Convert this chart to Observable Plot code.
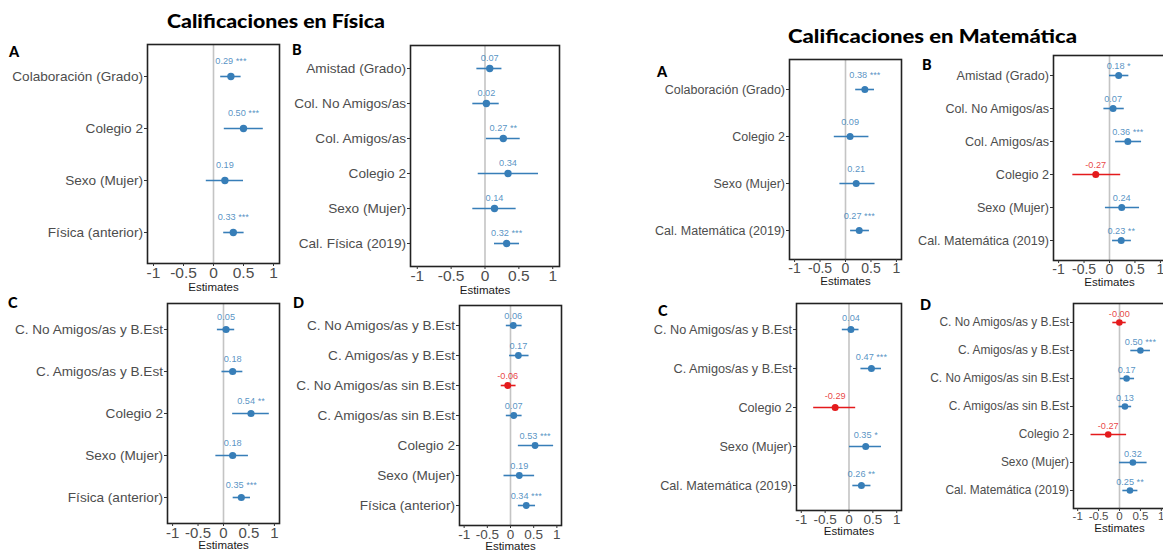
<!DOCTYPE html>
<html><head><meta charset="utf-8">
<script src="https://cdn.jsdelivr.net/npm/d3@7"></script>
<script src="https://cdn.jsdelivr.net/npm/@observablehq/plot@0.6"></script>
<style>
body{margin:0;background:#fff;}
#page{position:relative;width:1163px;height:554px;overflow:hidden;background:#fff;}
#page svg{overflow:visible;}
</style></head><body><div id="page"></div>
<script>
// ---------- data ----------
const fisA_terms = ["Colaboración (Grado)","Colegio 2","Sexo (Mujer)","Física (anterior)"];
const fisA_est = [0.29,0.50,0.19,0.33];
const fisA_lo  = [0.12,0.18,-0.12,0.17];
const fisA_hi  = [0.46,0.83,0.50,0.51];
const fisA_sig = ["***","***","","***"];

const fisB_terms = ["Amistad (Grado)","Col. No Amigos/as","Col. Amigos/as","Colegio 2","Sexo (Mujer)","Cal. Física (2019)"];
const fisB_est = [0.07,0.02,0.27,0.34,0.14,0.32];
const fisB_lo  = [-0.12,-0.18,0.02,-0.10,-0.18,0.14];
const fisB_hi  = [0.25,0.21,0.52,0.79,0.46,0.51];
const fisB_sig = ["","","**","","","***"];

const fisC_terms = ["C. No Amigos/as y B.Est","C. Amigos/as y B.Est","Colegio 2","Sexo (Mujer)","Física (anterior)"];
const fisC_est = [0.05,0.18,0.54,0.18,0.35];
const fisC_lo  = [-0.12,-0.03,0.18,-0.15,0.19];
const fisC_hi  = [0.22,0.38,0.90,0.49,0.53];
const fisC_sig = ["","","**","","***"];

const fisD_terms = ["C. No Amigos/as y B.Est","C. Amigos/as y B.Est","C. No Amigos/as sin B.Est","C. Amigos/as sin B.Est","Colegio 2","Sexo (Mujer)","Física (anterior)"];
const fisD_est = [0.06,0.17,-0.06,0.07,0.53,0.19,0.34];
const fisD_lo  = [-0.09,-0.02,-0.20,-0.09,0.17,-0.14,0.17];
const fisD_hi  = [0.25,0.40,0.12,0.25,0.93,0.52,0.54];
const fisD_sig = ["","","","","***","","***"];

const matA_terms = ["Colaboración (Grado)","Colegio 2","Sexo (Mujer)","Cal. Matemática (2019)"];
const matA_est = [0.38,0.09,0.21,0.27];
const matA_lo  = [0.20,-0.22,-0.11,0.10];
const matA_hi  = [0.57,0.46,0.58,0.47];
const matA_sig = ["***","","","***"];

const matB_terms = ["Amistad (Grado)","Col. No Amigos/as","Col. Amigos/as","Colegio 2","Sexo (Mujer)","Cal. Matemática (2019)"];
const matB_est = [0.18,0.07,0.36,-0.27,0.24,0.23];
const matB_lo  = [0.00,-0.11,0.12,-0.72,-0.08,0.06];
const matB_hi  = [0.38,0.29,0.63,0.22,0.59,0.43];
const matB_sig = ["*","","***","","","**"];

const matC_terms = ["C. No Amigos/as y B.Est","C. Amigos/as y B.Est","Colegio 2","Sexo (Mujer)","Cal. Matemática (2019)"];
const matC_est = [0.04,0.47,-0.29,0.35,0.26];
const matC_lo  = [-0.14,0.25,-0.74,0.01,0.08];
const matC_hi  = [0.21,0.68,0.14,0.68,0.46];
const matC_sig = ["","***","","*","**"];

const matD_terms = ["C. No Amigos/as y B.Est","C. Amigos/as y B.Est","C. No Amigos/as sin B.Est","C. Amigos/as sin B.Est","Colegio 2","Sexo (Mujer)","Cal. Matemática (2019)"];
const matD_est = [-0.004,0.50,0.17,0.13,-0.27,0.32,0.25];
const matD_lo  = [-0.16,0.27,0.02,-0.01,-0.68,0.00,0.08];
const matD_hi  = [0.16,0.74,0.36,0.29,0.17,0.66,0.44];
const matD_sig = ["","***","","","","","**"];

const xTicks = [-1,-0.5,0,0.5,1];
const xLabel = "Estimates";
const titles = ["Calificaciones en Física","Calificaciones en Matemática"];

// ---------- layout / style ----------
const BLUE = "#377eb8", RED = "#e41a1c";
const FONT = "'Liberation Sans', Arial, sans-serif";
const page = document.getElementById("page");

function panel(terms, est, lo, hi, sig, box) {
  const rows = terms.map((t, i) => ({
    term: t, est: est[i], lo: lo[i], hi: hi[i],
    label: est[i].toFixed(2) + (sig[i] ? " " + sig[i] : ""),
    col: est[i] < 0 ? RED : BLUE
  }));
  const mL = 200, mR = 12, mT = 10, mB = 45;
  const w = box.R - box.L, h = box.B - box.T;
  const step = h / (terms.length - 1 + 1.2);
  const chart = Plot.plot({
    width: mL + w + mR, height: mT + h + mB,
    marginLeft: mL, marginRight: mR, marginTop: mT, marginBottom: mB,
    style: {fontFamily: FONT, background: "transparent", overflow: "visible"},
    x: {domain: [-1.1, 1.1]},
    y: {type: "point", domain: terms, padding: 0.6},
    color: {type: "identity"},
    marks: [
      Plot.ruleX([0], {stroke: "#c4c4c4", strokeWidth: 1.6}),
      Plot.ruleY(rows, {y: "term", x1: "lo", x2: "hi", stroke: "col", strokeWidth: 1.6}),
      Plot.dot(rows, {x: "est", y: "term", r: box.r, fill: "col", stroke: null}),
      Plot.text(rows, {x: "est", y: "term", text: "label", dy: -0.3 * step, fill: "col", fillOpacity: 0.85, fontSize: 9.2}),
      Plot.frame({stroke: "#222", strokeWidth: 1.6}),
      Plot.axisY({tickSize: 3, tickPadding: 1.5, fontSize: box.yFont, fill: "#4d4d4d", stroke: "#333", label: null}),
      Plot.axisX({ticks: xTicks, tickFormat: d => String(d), tickSize: 3, tickPadding: 0.5, fontSize: box.xFont, fill: "#4d4d4d", stroke: "#333", label: null}),
      Plot.text([xLabel], {frameAnchor: "bottom", text: d => d, dy: box.eo, fontSize: 11.5, fill: "#1a1a1a"})
    ]
  });
  chart.style.position = "absolute";
  chart.style.left = (box.L - mL) + "px";
  chart.style.top = (box.T - mT) + "px";
  page.appendChild(chart);
}

panel(fisA_terms, fisA_est, fisA_lo, fisA_hi, fisA_sig, {L:147,R:279,T:44,B:263, yFont:13.6, xFont:15.5, r:3.7, eo:27});
panel(fisB_terms, fisB_est, fisB_lo, fisB_hi, fisB_sig, {L:410,R:559,T:45,B:266, yFont:13.6, xFont:15.5, r:3.7, eo:27});
panel(fisC_terms, fisC_est, fisC_lo, fisC_hi, fisC_sig, {L:167,R:279,T:303,B:523, yFont:13.6, xFont:15, r:3.6, eo:25});
panel(fisD_terms, fisD_est, fisD_lo, fisD_hi, fisD_sig, {L:459,R:561,T:305,B:525, yFont:13.6, xFont:13.5, r:3.4, eo:24.5});
panel(matA_terms, matA_est, matA_lo, matA_hi, matA_sig, {L:789,R:901,T:59,B:259, yFont:12.5, xFont:14, r:3.5, eo:25});
panel(matB_terms, matB_est, matB_lo, matB_hi, matB_sig, {L:1053,R:1165,T:55,B:260, yFont:12.6, xFont:14, r:3.5, eo:25});
panel(matC_terms, matC_est, matC_lo, matC_hi, matC_sig, {L:796,R:901,T:303,B:510, yFont:12.7, xFont:13.5, r:3.5, eo:24});
panel(matD_terms, matD_est, matD_lo, matD_hi, matD_sig, {L:1073,R:1165,T:303,B:508, yFont:11.9, xFont:11.5, r:3.3, eo:23});

// ---------- titles & panel letters ----------
const ov = d3.select(page).append("svg")
  .attr("width", 1163).attr("height", 554)
  .style("position", "absolute").style("left", 0).style("top", 0)
  .style("pointer-events", "none");
const head = [
  {t: titles[0], x: 167, y: 28, s: 18, len: 218},
  {t: titles[1], x: 788, y: 43, s: 19.5, len: 289}
];
ov.selectAll("text.title").data(head).join("text")
  .attr("x", d => d.x).attr("y", d => d.y).text(d => d.t)
  .attr("font-family", "Lato, 'DejaVu Sans', sans-serif").attr("font-weight", 900)
  .attr("font-size", d => d.s).attr("textLength", d => d.len).attr("lengthAdjust", "spacingAndGlyphs");
const letters = [
  {t:"A", x:9, y:57}, {t:"B", x:292, y:55}, {t:"C", x:8, y:308}, {t:"D", x:293, y:308},
  {t:"A", x:657, y:77}, {t:"B", x:922, y:70}, {t:"C", x:658, y:316}, {t:"D", x:920, y:310}
];
ov.selectAll("text.letter").data(letters).join("text")
  .attr("x", d => d.x).attr("y", d => d.y).text(d => d.t)
  .attr("font-family", "Lato, 'DejaVu Sans', sans-serif").attr("font-weight", 900)
  .attr("font-size", 14.5);
</script>
</body></html>
